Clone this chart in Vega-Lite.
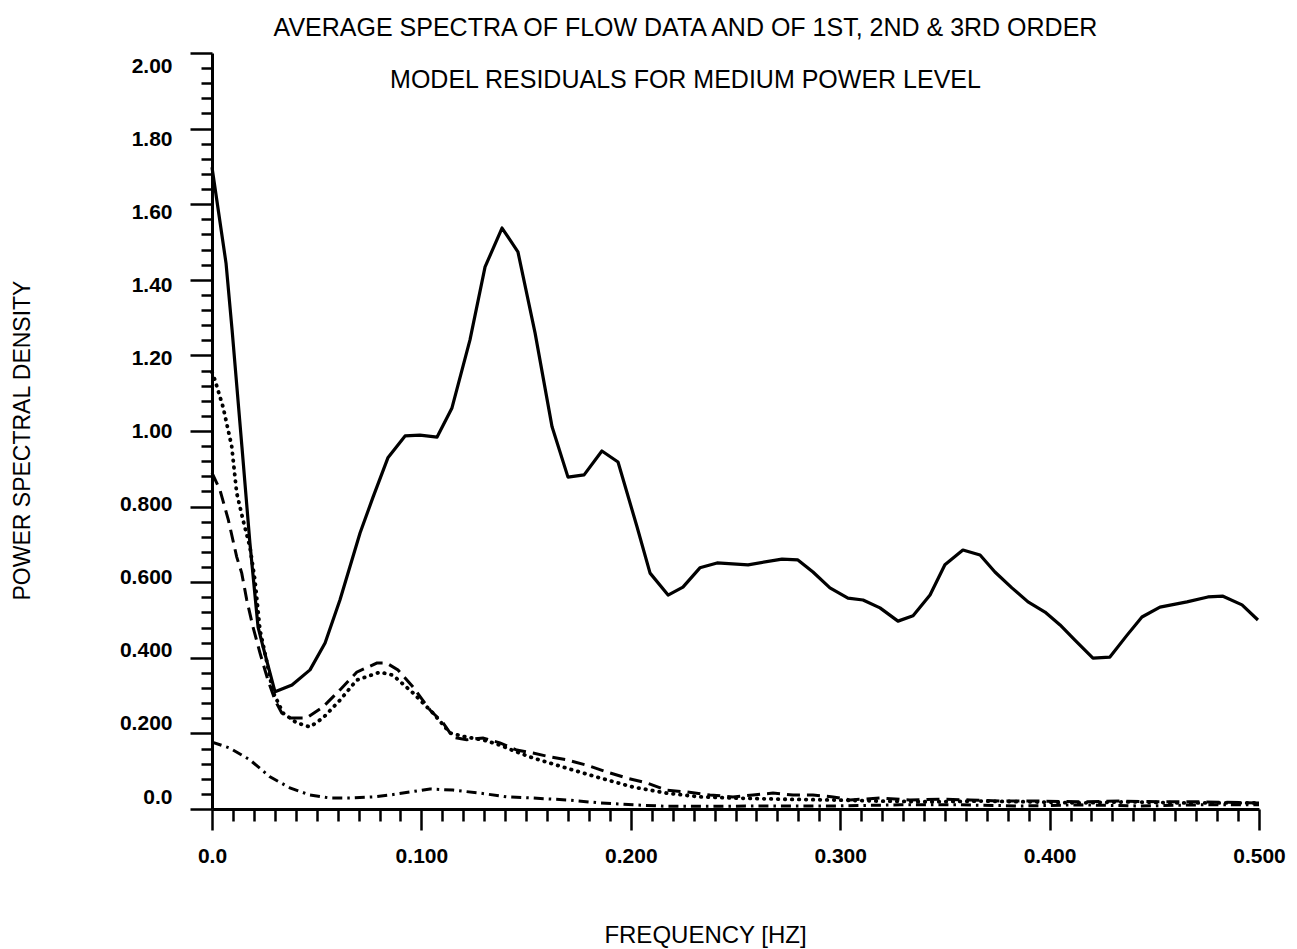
{
  "$schema": "https://vega.github.io/schema/vega-lite/v6.json",
  "autosize": {"type": "none"},
  "padding": {"left": 212, "top": 53, "right": 38, "bottom": 140},
  "width": 1047,
  "height": 756,
  "background": "white",
  "title": {
    "text": ["AVERAGE SPECTRA OF FLOW DATA AND OF 1ST, 2ND & 3RD ORDER", "MODEL RESIDUALS FOR MEDIUM POWER LEVEL"],
    "anchor": "middle",
    "frame": "group",
    "offset": 0,
    "dx": -50,
    "dy": 41,
    "lineHeight": 52,
    "font": "Liberation Sans",
    "fontSize": 25,
    "fontWeight": "normal",
    "color": "black"
  },
  "config": {
    "view": {"stroke": null},
    "axis": {
      "grid": false,
      "domainColor": "black",
      "domainWidth": 3,
      "tickColor": "black",
      "tickWidth": 2.5,
      "labelColor": "black",
      "labelFont": "Liberation Sans",
      "labelFontSize": 21,
      "labelFontWeight": "bold",
      "labelFlush": false,
      "labelOverlap": false,
      "titleColor": "black",
      "titleFont": "Liberation Sans",
      "titleFontWeight": "normal"
    }
  },
  "datasets": {
    "flow": [
      {"f": 0.0, "psd": 1.698}, {"f": 0.0067, "psd": 1.444}, {"f": 0.0096, "psd": 1.267}, {"f": 0.0143, "psd": 0.958},
      {"f": 0.0181, "psd": 0.704}, {"f": 0.022, "psd": 0.481}, {"f": 0.0244, "psd": 0.429}, {"f": 0.0301, "psd": 0.31},
      {"f": 0.0382, "psd": 0.328}, {"f": 0.0468, "psd": 0.368}, {"f": 0.054, "psd": 0.439}, {"f": 0.0611, "psd": 0.553},
      {"f": 0.0707, "psd": 0.73}, {"f": 0.0769, "psd": 0.825}, {"f": 0.084, "psd": 0.929}, {"f": 0.0922, "psd": 0.987},
      {"f": 0.0993, "psd": 0.989}, {"f": 0.1075, "psd": 0.984}, {"f": 0.1146, "psd": 1.061}, {"f": 0.1232, "psd": 1.241},
      {"f": 0.1304, "psd": 1.434}, {"f": 0.1385, "psd": 1.537}, {"f": 0.1461, "psd": 1.474}, {"f": 0.1543, "psd": 1.259},
      {"f": 0.1624, "psd": 1.011}, {"f": 0.17, "psd": 0.878}, {"f": 0.1777, "psd": 0.884}, {"f": 0.1862, "psd": 0.947},
      {"f": 0.1939, "psd": 0.918}, {"f": 0.203, "psd": 0.746}, {"f": 0.2092, "psd": 0.624}, {"f": 0.2178, "psd": 0.566},
      {"f": 0.2249, "psd": 0.587}, {"f": 0.233, "psd": 0.638}, {"f": 0.2412, "psd": 0.651}, {"f": 0.256, "psd": 0.646},
      {"f": 0.2722, "psd": 0.661}, {"f": 0.2798, "psd": 0.659}, {"f": 0.287, "psd": 0.627}, {"f": 0.2951, "psd": 0.585},
      {"f": 0.3037, "psd": 0.558}, {"f": 0.3109, "psd": 0.553}, {"f": 0.319, "psd": 0.532}, {"f": 0.3276, "psd": 0.497},
      {"f": 0.3348, "psd": 0.511}, {"f": 0.3429, "psd": 0.566}, {"f": 0.35, "psd": 0.646}, {"f": 0.3586, "psd": 0.685},
      {"f": 0.3668, "psd": 0.672}, {"f": 0.3739, "psd": 0.627}, {"f": 0.382, "psd": 0.585}, {"f": 0.3897, "psd": 0.548},
      {"f": 0.3978, "psd": 0.521}, {"f": 0.405, "psd": 0.487}, {"f": 0.4121, "psd": 0.447}, {"f": 0.4207, "psd": 0.399},
      {"f": 0.4288, "psd": 0.402}, {"f": 0.437, "psd": 0.46}, {"f": 0.4441, "psd": 0.508}, {"f": 0.4527, "psd": 0.534},
      {"f": 0.4656, "psd": 0.548}, {"f": 0.4756, "psd": 0.561}, {"f": 0.4828, "psd": 0.563}, {"f": 0.4919, "psd": 0.54},
      {"f": 0.4995, "psd": 0.5}
    ],
    "first": [
      {"f": 0.0, "psd": 1.156}, {"f": 0.0014, "psd": 1.135}, {"f": 0.0053, "psd": 1.063}, {"f": 0.0094, "psd": 0.96},
      {"f": 0.0118, "psd": 0.836}, {"f": 0.0148, "psd": 0.765}, {"f": 0.0181, "psd": 0.693}, {"f": 0.0205, "psd": 0.606},
      {"f": 0.0229, "psd": 0.474}, {"f": 0.0263, "psd": 0.386}, {"f": 0.0291, "psd": 0.31}, {"f": 0.0339, "psd": 0.254},
      {"f": 0.0404, "psd": 0.228}, {"f": 0.0468, "psd": 0.217}, {"f": 0.053, "psd": 0.241}, {"f": 0.0611, "psd": 0.288},
      {"f": 0.0691, "psd": 0.341}, {"f": 0.0802, "psd": 0.362}, {"f": 0.0864, "psd": 0.354}, {"f": 0.096, "psd": 0.307},
      {"f": 0.1055, "psd": 0.254}, {"f": 0.1137, "psd": 0.201}, {"f": 0.1216, "psd": 0.19}, {"f": 0.1294, "psd": 0.183},
      {"f": 0.1375, "psd": 0.169}, {"f": 0.1455, "psd": 0.151}, {"f": 0.1533, "psd": 0.135}, {"f": 0.1694, "psd": 0.108},
      {"f": 0.1853, "psd": 0.082}, {"f": 0.2011, "psd": 0.058}, {"f": 0.2171, "psd": 0.042}, {"f": 0.233, "psd": 0.032},
      {"f": 0.2488, "psd": 0.029}, {"f": 0.2712, "psd": 0.026}, {"f": 0.2951, "psd": 0.024}, {"f": 0.319, "psd": 0.021},
      {"f": 0.3429, "psd": 0.019}, {"f": 0.3668, "psd": 0.021}, {"f": 0.3906, "psd": 0.019}, {"f": 0.4145, "psd": 0.016},
      {"f": 0.4384, "psd": 0.019}, {"f": 0.4623, "psd": 0.016}, {"f": 0.4862, "psd": 0.016}, {"f": 0.5, "psd": 0.016}
    ],
    "second": [
      {"f": 0.0, "psd": 0.889}, {"f": 0.0038, "psd": 0.844}, {"f": 0.0078, "psd": 0.765}, {"f": 0.0118, "psd": 0.667},
      {"f": 0.0142, "psd": 0.624}, {"f": 0.0166, "psd": 0.553}, {"f": 0.0196, "psd": 0.481}, {"f": 0.0229, "psd": 0.413},
      {"f": 0.0267, "psd": 0.341}, {"f": 0.0301, "psd": 0.288}, {"f": 0.0333, "psd": 0.254}, {"f": 0.0372, "psd": 0.241},
      {"f": 0.0452, "psd": 0.241}, {"f": 0.053, "psd": 0.27}, {"f": 0.0611, "psd": 0.315}, {"f": 0.0691, "psd": 0.362},
      {"f": 0.0787, "psd": 0.386}, {"f": 0.0834, "psd": 0.386}, {"f": 0.0888, "psd": 0.368}, {"f": 0.096, "psd": 0.323},
      {"f": 0.1041, "psd": 0.262}, {"f": 0.1103, "psd": 0.228}, {"f": 0.1151, "psd": 0.19}, {"f": 0.1216, "psd": 0.183},
      {"f": 0.1294, "psd": 0.188}, {"f": 0.1375, "psd": 0.175}, {"f": 0.1455, "psd": 0.156}, {"f": 0.1533, "psd": 0.148},
      {"f": 0.1614, "psd": 0.138}, {"f": 0.1694, "psd": 0.13}, {"f": 0.1789, "psd": 0.116}, {"f": 0.1885, "psd": 0.098},
      {"f": 0.198, "psd": 0.082}, {"f": 0.2076, "psd": 0.069}, {"f": 0.2171, "psd": 0.05}, {"f": 0.2267, "psd": 0.045},
      {"f": 0.2378, "psd": 0.037}, {"f": 0.2488, "psd": 0.032}, {"f": 0.2584, "psd": 0.037}, {"f": 0.2679, "psd": 0.042},
      {"f": 0.2775, "psd": 0.037}, {"f": 0.287, "psd": 0.037}, {"f": 0.2966, "psd": 0.032}, {"f": 0.3047, "psd": 0.024},
      {"f": 0.319, "psd": 0.029}, {"f": 0.3333, "psd": 0.024}, {"f": 0.3477, "psd": 0.026}, {"f": 0.362, "psd": 0.024},
      {"f": 0.3763, "psd": 0.021}, {"f": 0.3954, "psd": 0.021}, {"f": 0.4145, "psd": 0.019}, {"f": 0.4336, "psd": 0.021},
      {"f": 0.4527, "psd": 0.019}, {"f": 0.4718, "psd": 0.019}, {"f": 0.5, "psd": 0.016}
    ],
    "third": [
      {"f": 0.0, "psd": 0.177}, {"f": 0.0086, "psd": 0.161}, {"f": 0.0181, "psd": 0.13}, {"f": 0.0277, "psd": 0.085},
      {"f": 0.0372, "psd": 0.056}, {"f": 0.0468, "psd": 0.037}, {"f": 0.0564, "psd": 0.029}, {"f": 0.0659, "psd": 0.029},
      {"f": 0.0769, "psd": 0.032}, {"f": 0.085, "psd": 0.037}, {"f": 0.0946, "psd": 0.045}, {"f": 0.1041, "psd": 0.053},
      {"f": 0.1151, "psd": 0.05}, {"f": 0.128, "psd": 0.042}, {"f": 0.1407, "psd": 0.032}, {"f": 0.1533, "psd": 0.029},
      {"f": 0.1694, "psd": 0.024}, {"f": 0.1853, "psd": 0.016}, {"f": 0.2011, "psd": 0.011}, {"f": 0.2171, "psd": 0.007},
      {"f": 0.233, "psd": 0.007}, {"f": 0.2617, "psd": 0.008}, {"f": 0.2966, "psd": 0.008}, {"f": 0.3286, "psd": 0.011},
      {"f": 0.3572, "psd": 0.011}, {"f": 0.3859, "psd": 0.008}, {"f": 0.4145, "psd": 0.011}, {"f": 0.4432, "psd": 0.008},
      {"f": 0.4718, "psd": 0.011}, {"f": 0.5, "psd": 0.011}
    ]
  },
  "encoding": {
    "x": {
      "field": "f",
      "type": "quantitative",
      "scale": {"domain": [0, 0.5], "nice": false, "zero": false},
      "axis": {
        "values": [0, 0.01, 0.02, 0.03, 0.04, 0.05, 0.06, 0.07, 0.08, 0.09, 0.1, 0.11, 0.12, 0.13, 0.14, 0.15, 0.16, 0.17, 0.18, 0.19, 0.2, 0.21, 0.22, 0.23, 0.24, 0.25, 0.26, 0.27, 0.28, 0.29, 0.3, 0.31, 0.32, 0.33, 0.34, 0.35, 0.36, 0.37, 0.38, 0.39, 0.4, 0.41, 0.42, 0.43, 0.44, 0.45, 0.46, 0.47, 0.48, 0.49, 0.5],
        "tickSize": {"condition": {"test": "abs(datum.value * 10 - round(datum.value * 10)) < 0.000001", "value": 21}, "value": 12},
        "labelExpr": "abs(datum.value * 10 - round(datum.value * 10)) < 0.000001 ? (datum.value == 0 ? '0.0' : format(datum.value, '.3f')) : ''",
        "labelPadding": 15,
        "title": "FREQUENCY [HZ]",
        "titleFontSize": 24,
        "titleX": 493,
        "titleY": 126,
        "titleAlign": "center",
        "titleBaseline": "middle"
      }
    },
    "y": {
      "field": "psd",
      "type": "quantitative",
      "scale": {"domain": [0, 2], "nice": false, "zero": false},
      "axis": {
        "values": [0, 0.04, 0.08, 0.12, 0.16, 0.2, 0.24, 0.28, 0.32, 0.36, 0.4, 0.44, 0.48, 0.52, 0.56, 0.6, 0.64, 0.68, 0.72, 0.76, 0.8, 0.84, 0.88, 0.92, 0.96, 1, 1.04, 1.08, 1.12, 1.16, 1.2, 1.24, 1.28, 1.32, 1.36, 1.4, 1.44, 1.48, 1.52, 1.56, 1.6, 1.64, 1.68, 1.72, 1.76, 1.8, 1.84, 1.88, 1.92, 1.96, 2],
        "tickSize": {"condition": {"test": "abs(datum.value * 5 - round(datum.value * 5)) < 0.000001", "value": 22}, "value": 11},
        "labelExpr": "abs(datum.value * 5 - round(datum.value * 5)) < 0.000001 ? (datum.value == 0 ? '0.0' : (datum.value > 0.999 ? format(datum.value, '.2f') : format(datum.value, '.3f'))) : ''",
        "labelPadding": 18,
        "labelAlign": "right",
        "labelBaseline": "middle",
        "labelOffset": {
          "condition": [
            {"test": "datum.value < 0.1", "value": -12},
            {"test": "datum.value < 0.3", "value": -9.5},
            {"test": "datum.value < 0.5", "value": -7},
            {"test": "datum.value < 0.7", "value": -4.5},
            {"test": "datum.value < 0.9", "value": -2},
            {"test": "datum.value < 1.1", "value": 0.5},
            {"test": "datum.value < 1.3", "value": 3},
            {"test": "datum.value < 1.5", "value": 5.5},
            {"test": "datum.value < 1.7", "value": 8},
            {"test": "datum.value < 1.9", "value": 10.5}
          ],
          "value": 13
        },
        "title": "POWER SPECTRAL DENSITY",
        "titleFontSize": 23,
        "titleAngle": 270,
        "titleX": -190,
        "titleY": 387,
        "titleAlign": "center",
        "titleBaseline": "middle"
      }
    }
  },
  "layer": [
    {
      "data": {"name": "flow"},
      "mark": {"type": "line", "color": "black", "strokeWidth": 3.2, "strokeJoin": "round"}
    },
    {
      "data": {"name": "first"},
      "mark": {"type": "line", "color": "black", "strokeWidth": 3.8, "strokeDash": [0.5, 6.5], "strokeCap": "round"}
    },
    {
      "data": {"name": "second"},
      "mark": {"type": "line", "color": "black", "strokeWidth": 3, "strokeDash": [13, 7]}
    },
    {
      "data": {"name": "third"},
      "mark": {"type": "line", "color": "black", "strokeWidth": 3, "strokeDash": [10, 5, 2.5, 5]}
    }
  ]
}
